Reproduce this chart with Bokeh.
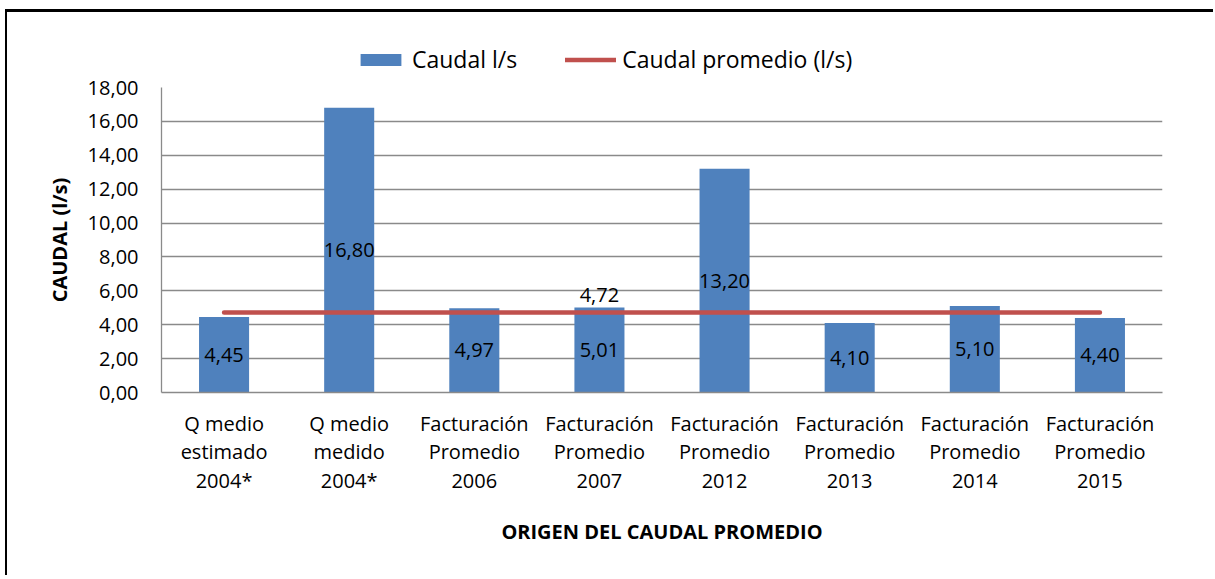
from bokeh.plotting import figure
from bokeh.layouts import column
from bokeh.models import (FactorRange, Range1d, FixedTicker, ColumnDataSource,
                          Legend, LegendItem, LabelSet)
from bokeh.core.properties import value
from bokeh.embed import file_html
from bokeh.resources import INLINE

categories = ["Q medio\nestimado\n2004*", "Q medio\nmedido\n2004*",
              "Facturación\nPromedio\n2006", "Facturación\nPromedio\n2007",
              "Facturación\nPromedio\n2012", "Facturación\nPromedio\n2013",
              "Facturación\nPromedio\n2014", "Facturación\nPromedio\n2015"]
caudal = [4.45, 16.80, 4.97, 5.01, 13.20, 4.10, 5.10, 4.40]
caudal_labels = ["4,45", "16,80", "4,97", "5,01", "13,20", "4,10", "5,10", "4,40"]
promedio = [4.72, 4.72, 4.72, 4.72, 4.72, 4.72, 4.72, 4.72]
promedio_label_cat = ["Facturación\nPromedio\n2007"]
promedio_label_val = [4.72]
promedio_label_txt = ["4,72"]
y_ticks = [0, 2, 4, 6, 8, 10, 12, 14, 16, 18]
y_tick_labels = ["0,00", "2,00", "4,00", "6,00", "8,00", "10,00", "12,00",
                 "14,00", "16,00", "18,00"]
legend_labels = ["Caudal l/s", "Caudal promedio (l/s)"]

FONT = "Open Sans"
FS = "20px"
BLUE = "#4F81BD"
RED = "#C0504D"
GRID = "#8a8a8a"
W = 1206

# ---- legend strip (top of the chart area) ----
pl = figure(width=W, height=63, x_range=Range1d(0, 1), y_range=Range1d(0, 1),
            output_backend="svg", toolbar_location=None, min_border=0)
pl.axis.visible = False
pl.grid.visible = False
pl.outline_line_color = None
# off-range swatch renderers, only used to draw the legend keys
lbar = pl.vbar(x=[-5], top=[-5], width=0.4, fill_color=BLUE, line_color=None)
lline = pl.line(x=[-5, -4], y=[-5, -5], line_color=RED, line_width=4.5, line_cap="round")
legend = Legend(items=[LegendItem(label=legend_labels[0], renderers=[lbar]),
                       LegendItem(label=legend_labels[1], renderers=[lline])],
                orientation="horizontal", location=(194, 0),
                glyph_width=51, glyph_height=15, label_standoff=6, spacing=48,
                padding=2, border_line_color=None, background_fill_alpha=0,
                label_text_font=FONT, label_text_font_size="23px",
                label_text_color="black")
pl.add_layout(legend)

# ---- main chart ----
p = figure(width=W, height=500, x_range=FactorRange(*categories, range_padding=0),
           y_range=Range1d(0, 18), output_backend="svg", toolbar_location=None,
           min_border_left=154, min_border_right=W - 154 - 1001, min_border_top=12,
           min_border_bottom=183)
p.outline_line_color = None
p.background_fill_color = "white"

src = ColumnDataSource(dict(x=categories, y=caudal, ymid=[v / 2 for v in caudal],
                            lab=caudal_labels))
bars = p.vbar(x="x", top="y", width=0.4, source=src, fill_color=BLUE, line_color=None)
line = p.line(x=categories, y=promedio, line_color=RED, line_width=4.5, line_cap="round")

p.add_layout(LabelSet(x="x", y="ymid", text="lab", source=src, text_align="center",
                      text_baseline="middle", text_font=value(FONT),
                      text_font_size=FS, text_color="black"))
lsrc = ColumnDataSource(dict(x=promedio_label_cat, y=promedio_label_val,
                             lab=promedio_label_txt))
p.add_layout(LabelSet(x="x", y="y", text="lab", source=lsrc, text_align="center",
                      text_baseline="bottom", y_offset=11, text_font=value(FONT),
                      text_font_size=FS, text_color="black"))

p.xgrid.grid_line_color = None
p.ygrid.grid_line_color = GRID
p.ygrid.grid_line_width = 1.3
p.yaxis.ticker = FixedTicker(ticks=y_ticks)
p.yaxis.major_label_overrides = {t: l for t, l in zip(y_ticks, y_tick_labels)}

for ax in (p.xaxis[0], p.yaxis[0]):
    ax.axis_line_color = GRID
    ax.axis_line_width = 1.3
    ax.major_tick_line_color = None
    ax.minor_tick_line_color = None
    ax.major_tick_out = 0
    ax.major_tick_in = 0
    ax.major_label_text_font = FONT
    ax.major_label_text_font_size = FS
    ax.major_label_text_color = "black"
    ax.axis_label_text_font = FONT
    ax.axis_label_text_font_size = "20px"
    ax.axis_label_text_font_style = "bold"
    ax.axis_label_text_color = "black"

p.xaxis.major_label_text_line_height = 1.07
p.xaxis.major_label_standoff = 17
p.xaxis.axis_label = "ORIGEN DEL CAUDAL PROMEDIO"
p.xaxis.axis_label_standoff = 21
p.yaxis.major_label_standoff = 23
p.yaxis.axis_label = "CAUDAL (l/s)"
p.yaxis.axis_label_standoff = 12

layout = column(pl, p, spacing=0,
                styles={"border-left": "2px solid black", "border-top": "3px solid black",
                        "margin-left": "5px", "margin-top": "9px"})

open("out.html", "w").write(file_html(layout, INLINE))
